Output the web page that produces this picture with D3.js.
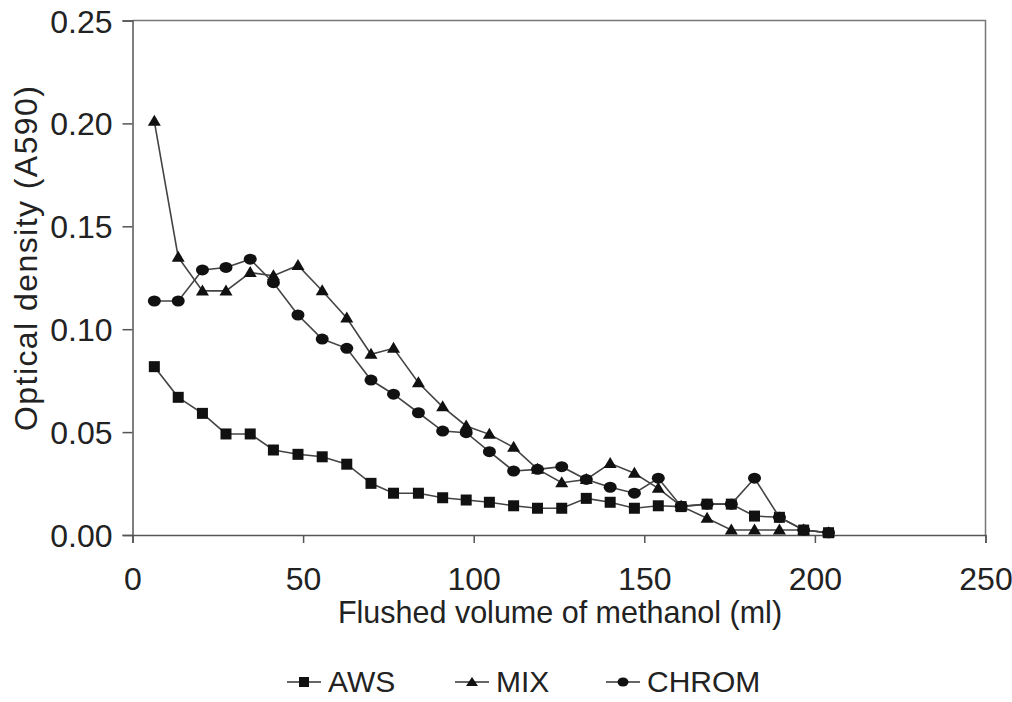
<!DOCTYPE html>
<html lang="en">
<head>
<meta charset="UTF-8">
<title>Optical density vs flushed methanol volume</title>
<style>
body { margin: 0; background: #fff; }
svg { display: block; font-family: "Liberation Sans", Arial, sans-serif; }
.axis path, .axis line { stroke: #555; stroke-width: 1.5; fill: none; }
.axis text { font-size: 32px; fill: #222; }
</style>
</head>
<body>
<svg id="chart" width="1012" height="702"></svg>
<script src="https://d3js.org/d3.v7.min.js"></script>
<script>
// flushed volume of methanol (ml) for each fraction
var volume = [6.4, 13.4, 20.5, 27.4, 34.5, 41.3, 48.5, 55.6, 62.8, 69.9, 76.5, 83.8, 90.9, 97.8, 104.6,
  111.7, 118.7, 125.8, 133.0, 140.0, 147.1, 154.1, 160.8, 168.4, 175.5, 182.3, 189.6, 196.7, 204.0];

var aws = [0.0818, 0.0669, 0.0591, 0.0491, 0.0491, 0.0413, 0.0392, 0.0380, 0.0344, 0.0251, 0.0203, 0.0203,
  0.0181, 0.0170, 0.0159, 0.0142, 0.0130, 0.0130, 0.0178, 0.0159, 0.0130, 0.0142, 0.0138, 0.0150, 0.0150,
  0.0092, 0.0086, 0.0024, 0.0011];

var mix = [0.201, 0.135, 0.1186, 0.1186, 0.1275, 0.1260, 0.1310, 0.1187, 0.1054, 0.0878, 0.0907, 0.0740,
  0.0623, 0.0530, 0.0489, 0.0426, 0.0320, 0.0254, 0.0270, 0.0348, 0.0300, 0.0227, 0.0140, 0.0081, 0.0024,
  0.0024, 0.0024, 0.0024, 0.0011];

var chrom = [0.1137, 0.1137, 0.1288, 0.1300, 0.1340, 0.1226, 0.1069, 0.0952, 0.0907, 0.0753, 0.0684, 0.0594,
  0.0505, 0.0497, 0.0405, 0.0311, 0.0319, 0.0332, 0.0270, 0.0232, 0.0203, 0.0276, 0.0140, 0.0150, 0.0150,
  0.0276, 0.0086, 0.0024, 0.0011];

var xTicks = [0, 50, 100, 150, 200, 250];
var yTicks = [0, 0.05, 0.10, 0.15, 0.20, 0.25];

var seriesNames = ["AWS", "MIX", "CHROM"];
var seriesValues = [aws, mix, chrom];
var seriesShapes = ["square", "triangle", "circle"];

var svg = d3.select("#chart");

var x = d3.scaleLinear().domain([0, 250]).range([132.5, 985.5]);
var y = d3.scaleLinear().domain([0, 0.25]).range([535, 20.5]);

// frame (top + right)
svg.append("path")
  .attr("d", "M" + x(0) + "," + y(0.25) + "H" + x(250) + "V" + y(0))
  .attr("fill", "none")
  .attr("stroke", "#777")
  .attr("stroke-width", 1.5);

svg.append("g")
  .attr("class", "axis")
  .attr("transform", "translate(0," + y(0) + ")")
  .call(d3.axisBottom(x).tickValues(xTicks).tickSize(8).tickPadding(24).tickFormat(d3.format("d")));

svg.append("g")
  .attr("class", "axis")
  .attr("transform", "translate(" + x(0) + ",0)")
  .call(d3.axisLeft(y).tickValues(yTicks).tickSize(10).tickPadding(10).tickFormat(d3.format(".2f")))
  .selectAll("text").attr("dy", "0.36em");

svg.selectAll(".axis .domain").attr("stroke", "#444");

// axis titles
svg.append("text")
  .attr("x", 560)
  .attr("y", 623)
  .attr("text-anchor", "middle")
  .style("font-size", "30.5px")
  .style("fill", "#222")
  .text("Flushed volume of methanol (ml)");

svg.append("text")
  .attr("transform", "translate(37,258.5) rotate(-90)")
  .attr("text-anchor", "middle")
  .attr("textLength", 345)
  .attr("lengthAdjust", "spacing")
  .style("font-size", "32px")
  .style("fill", "#222")
  .text("Optical density (A590)");

function drawMarker(g, shape, cx, cy) {
  if (shape === "square") {
    g.append("rect").attr("x", cx - 5.5).attr("y", cy - 5.5).attr("width", 11).attr("height", 11)
      .attr("fill", "#111");
  } else if (shape === "triangle") {
    g.append("path").attr("d", "M" + cx + "," + (cy - 6.5) + "L" + (cx + 6.5) + "," + (cy + 4.5) + "L" + (cx - 6.5) + "," + (cy + 4.5) + "Z")
      .attr("fill", "#111");
  } else {
    g.append("ellipse").attr("cx", cx).attr("cy", cy).attr("rx", 6.5).attr("ry", 5.5)
      .attr("fill", "#111");
  }
}

var line = d3.line()
  .x(function(d) { return x(d[0]); })
  .y(function(d) { return y(d[1]); });

seriesValues.forEach(function(vals, s) {
  var pts = vals.map(function(v, i) { return [volume[i], v]; });
  svg.append("path")
    .datum(pts)
    .attr("d", line)
    .attr("fill", "none")
    .attr("stroke", "#444")
    .attr("stroke-width", 1.6);
  var g = svg.append("g");
  pts.forEach(function(p) {
    drawMarker(g, seriesShapes[s], x(p[0]), y(p[1]));
  });
});

// legend
var legendX = [287, 455, 606];
seriesNames.forEach(function(name, s) {
  var lx = legendX[s], ly = 682;
  svg.append("line")
    .attr("x1", lx).attr("x2", lx + 34)
    .attr("y1", ly).attr("y2", ly)
    .attr("stroke", "#333").attr("stroke-width", 1.6);
  var g = svg.append("g");
  if (seriesShapes[s] === "square") {
    g.append("rect").attr("x", lx + 12).attr("y", ly - 5).attr("width", 10).attr("height", 10).attr("fill", "#111");
  } else if (seriesShapes[s] === "triangle") {
    g.append("path").attr("d", "M" + (lx + 17) + "," + (ly - 5) + "l6,9h-12z").attr("fill", "#111");
  } else {
    g.append("ellipse").attr("cx", lx + 17).attr("cy", ly).attr("rx", 5.5).attr("ry", 4.5).attr("fill", "#111");
  }
  svg.append("text")
    .attr("x", lx + 41)
    .attr("y", 692)
    .style("font-size", "30px")
    .style("fill", "#222")
    .text(name);
});
</script>
</body>
</html>
